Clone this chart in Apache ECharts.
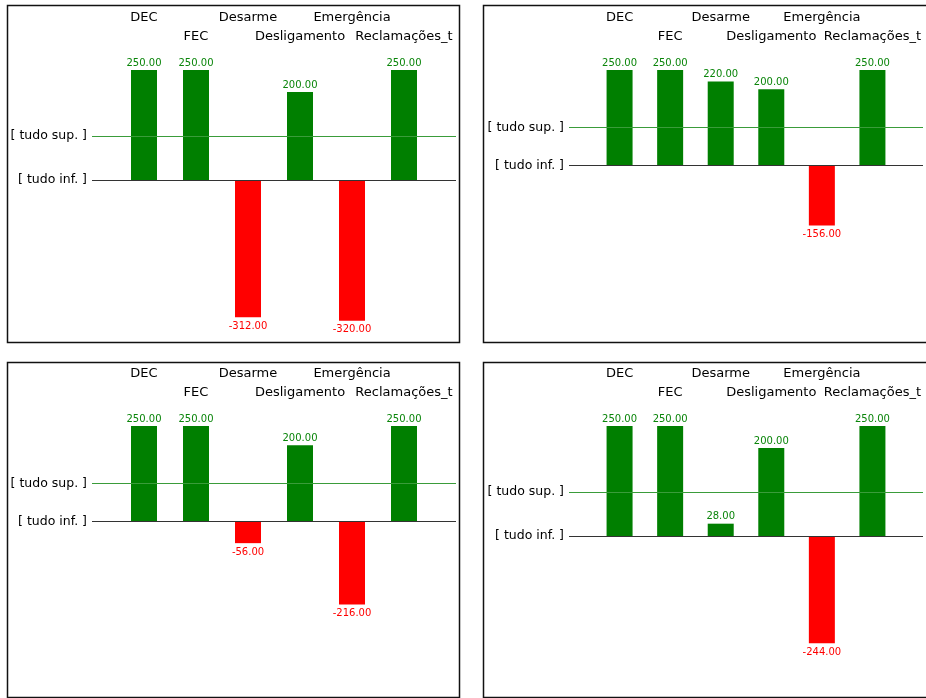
<!DOCTYPE html>
<html>
<head>
<meta charset="utf-8">
<script src="https://cdn.jsdelivr.net/npm/echarts@6/dist/echarts.min.js"></script>
<style>
html,body{margin:0;padding:0;background:#fff;}
#chart{width:926px;height:698px;}
</style>
</head>
<body>
<div id="chart"></div>
<script>
// ---- data ----
const categories = ['DEC', 'FEC', 'Desarme', 'Desligamento', 'Emergência', 'Reclamações_t'];
const panel1 = [250, 250, -312, 200, -320, 250];
const panel2 = [250, 250, 220, 200, -156, 250];
const panel3 = [250, 250, -56, 200, -216, 250];
const panel4 = [250, 250, 28, 200, -244, 250];
const limitValues = [100, 0];                       // tudo sup., tudo inf.
const limitLabels = ['[ tudo sup. ]', '[ tudo inf. ]'];

const panels = [panel1, panel2, panel3, panel4];
// layout (pixels) and axis ranges per panel
const layout = [
  {left: 92,  top: 70,  height: 264, min: -350, box: [7, 5, 452, 337]},
  {left: 569, top: 70,  height: 268, min: -450, box: [483, 5, 460, 337]},
  {left: 92,  top: 426, height: 268, min: -450, box: [7, 362, 452, 335]},
  {left: 569, top: 426, height: 264, min: -350, box: [483, 362, 460, 335]}
];
const FONT = 'DejaVu Sans';
const GREEN = '#007f00', RED = '#ff0000';

const grid = [], xAxis = [], yAxis = [], series = [];
layout.forEach((L, i) => {
  grid.push({left: L.left, top: L.top, width: 364, height: L.height, containLabel: false});
  xAxis.push({
    type: 'value', gridIndex: i, position: 'top', min: 0, max: 7, interval: 1,
    axisLine: {show: false}, axisTick: {show: false}, splitLine: {show: false},
    axisLabel: {
      show: true, margin: 24, fontFamily: FONT, fontSize: 13, color: '#000', lineHeight: 19,
      showMinLabel: true, showMaxLabel: true,
      formatter: v => {
        const k = Math.round(v) - 1;
        if (k < 0 || k >= categories.length) return '';
        return k % 2 === 0 ? categories[k] + '\n ' : categories[k];
      }
    }
  });
  yAxis.push({
    type: 'value', gridIndex: i, min: L.min, max: 250, interval: 50,
    axisLine: {show: false}, axisTick: {show: false}, splitLine: {show: false},
    axisLabel: {
      margin: 5, fontFamily: FONT, fontSize: 12.5, color: '#000',
      formatter: v => {
        const k = limitValues.indexOf(v);
        return k >= 0 ? limitLabels[k] : '';
      }
    }
  });
  series.push({
    type: 'line', xAxisIndex: i, yAxisIndex: i, data: [], z: 1, silent: true,
    markLine: {
      silent: true, symbol: ['none', 'none'], label: {show: false}, animation: false,
      data: [
        {yAxis: limitValues[0], lineStyle: {color: '#3a9c3a', width: 1, type: 'solid'}},
        {yAxis: limitValues[1], lineStyle: {color: '#333', width: 1, type: 'solid'}}
      ]
    }
  });
  series.push({
    type: 'bar', xAxisIndex: i, yAxisIndex: i, z: 3, barWidth: 26,
    data: panels[i].map((v, k) => ({
      value: [k + 1, v],
      itemStyle: {color: v >= 0 ? GREEN : RED},
      label: {
        show: true, position: v >= 0 ? 'top' : 'bottom', distance: v >= 0 ? 2 : 4,
        color: v >= 0 ? '#0a850a' : RED, fontFamily: FONT, fontSize: 10,
        formatter: p => p.value[1].toFixed(2)
      }
    }))
  });
});

const graphic = [];
layout.forEach(L => {
  graphic.push({type: 'rect', z: 100, silent: true,
    shape: {x: L.box[0] + 0.5, y: L.box[1] + 0.5, width: L.box[2], height: L.box[3]},
    style: {fill: null, stroke: '#111', lineWidth: 1.5}});
});
// white gap between left and right panels (acts as clip for overflowing text)
graphic.push({type: 'rect', z: 90, silent: true,
  shape: {x: 460, y: 0, width: 22, height: 698}, style: {fill: '#fff'}});

const chart = echarts.init(document.getElementById('chart'), null, {renderer: 'canvas'});
chart.setOption({
  animation: false,
  backgroundColor: '#fff',
  grid, xAxis, yAxis, series, graphic
});
</script>
</body>
</html>
